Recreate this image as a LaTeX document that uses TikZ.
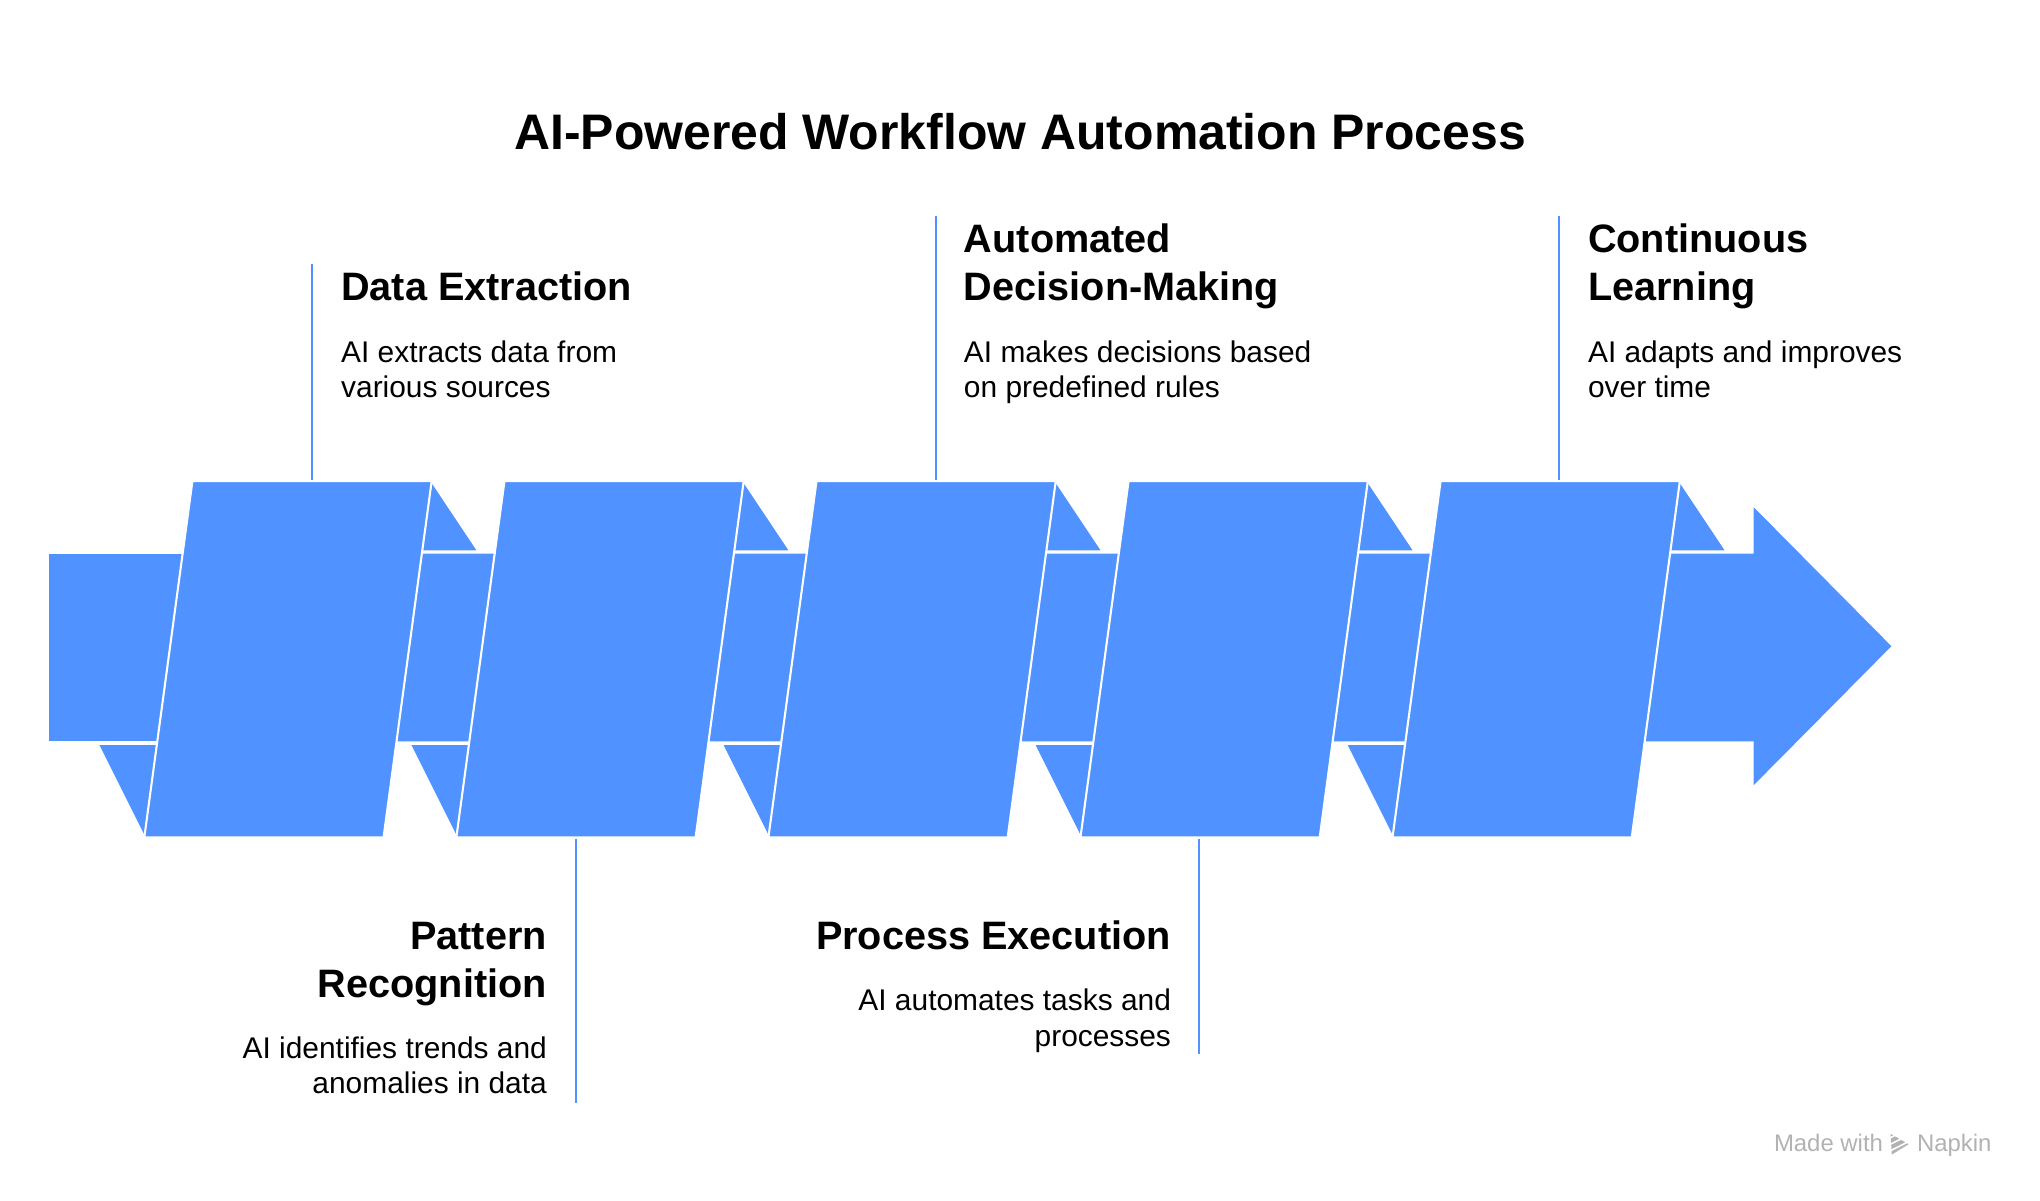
\documentclass[tikz,border=0pt]{standalone}
\usepackage{fontspec}
\setmainfont{Liberation Sans}
\definecolor{rib}{RGB}{80,146,255}
\definecolor{wm}{RGB}{178,178,178}
\begin{document}
\begin{tikzpicture}[x=0.5pt,y=-0.5pt,
  part/.style={fill=rib,draw=white,line width=0.8pt,line join=miter},
  link/.style={draw=rib,line width=0.7pt},
  ttl/.style={inner sep=0pt,font=\fontsize{19.2pt}{23pt}\selectfont\bfseries},
  head/.style={inner sep=0pt,font=\fontsize{15.25pt}{18.5pt}\selectfont\bfseries},
  desc/.style={inner sep=0pt,font=\fontsize{11.5pt}{14pt}\selectfont},
  wmtext/.style={inner sep=0pt,text=wm,font=\fontsize{9.2pt}{11pt}\selectfont}]
\useasboundingbox (0,0) rectangle (1569,923);
% title
\node[ttl,anchor=base] (title) at (784.5,115) {AI-Powered Workflow Automation Process};
% tail band
\path[part] (37,425) -- (150,425) -- (150,571) -- (37,571) -- cycle;
% bands between panels
\foreach \d in {0,240,480,720}{
  \path[part] (315+\d,425) -- (385+\d,425) -- (385+\d,571) -- (300+\d,571) -- cycle;
}
% final band with arrowhead
\path[part] (1270,425) -- (1348,425) -- (1348,388) -- (1456,497) -- (1348,606) -- (1348,571) -- (1255,571) -- cycle;
% upper triangles
\foreach \d in {0,240,480,720,960}{
  \path[part] (332+\d,370) -- (368+\d,424) -- (316+\d,424) -- cycle;
}
% lower triangles
\foreach \d in {0,240,480,720,960}{
  \path[part] (75+\d,572) -- (111+\d,644) -- (132+\d,572) -- cycle;
}
% panels
\foreach \d/\n in {0/1,240/2,480/3,720/4,960/5}{
  \path[part] (148+\d,370) -- (332+\d,370) -- (295+\d,644) -- (111+\d,644) -- cycle;
}
% anchor coordinates of the connectors
\coordinate (p1) at (240,369);
\coordinate (p2) at (443,645);
\coordinate (p3) at (720,369);
\coordinate (p4) at (922,645);
\coordinate (p5) at (1199,369);
\coordinate (e1) at (240,203);
\coordinate (e2) at (443,848);
\coordinate (e3) at (720,166);
\coordinate (e4) at (922,811);
\coordinate (e5) at (1199,166);
\draw[link] (p1) -- (e1);
\draw[link] (p2) -- (e2);
\draw[link] (p3) -- (e3);
\draw[link] (p4) -- (e4);
\draw[link] (p5) -- (e5);
% step 1
\node[head,anchor=base west] (h1) at (262,231) {Data Extraction};
\node[desc,anchor=base west] (d1a) at (262,279) {AI extracts data from};
\node[desc,anchor=base west] (d1b) at (262,306) {various sources};
% step 2
\node[head,anchor=base east] (h2a) at (421,730) {Pattern};
\node[head,anchor=base east] (h2b) at (421,767) {Recognition};
\node[desc,anchor=base east] (d2a) at (421,814) {AI identifies trends and};
\node[desc,anchor=base east] (d2b) at (421,841) {anomalies in data};
% step 3
\node[head,anchor=base west] (h3a) at (741,194) {Automated};
\node[head,anchor=base west] (h3b) at (741,231) {Decision-Making};
\node[desc,anchor=base west] (d3a) at (741,279) {AI makes decisions based};
\node[desc,anchor=base west] (d3b) at (741,306) {on predefined rules};
% step 4
\node[head,anchor=base east] (h4) at (901,730) {Process Execution};
\node[desc,anchor=base east] (d4a) at (901,777) {AI automates tasks and};
\node[desc,anchor=base east] (d4b) at (901,805) {processes};
% step 5
\node[head,anchor=base west] (h5a) at (1221,194) {Continuous};
\node[head,anchor=base west] (h5b) at (1221,231) {Learning};
\node[desc,anchor=base west] (d5a) at (1221,279) {AI adapts and improves};
\node[desc,anchor=base west] (d5b) at (1221,306) {over time};
% watermark
\node[wmtext,anchor=base west] (made) at (1364,886) {Made with};
\node[wmtext,anchor=base west] (napkin) at (1474,886) {Napkin};
\fill[wm] (1454,872) -- (1468,880) -- (1455,888) -- cycle;
\draw[white,line width=0.6pt] (1452,876) -- (1462,871) (1452,881) -- (1466,874) (1452,886) -- (1468,878);
\end{tikzpicture}
\end{document}
